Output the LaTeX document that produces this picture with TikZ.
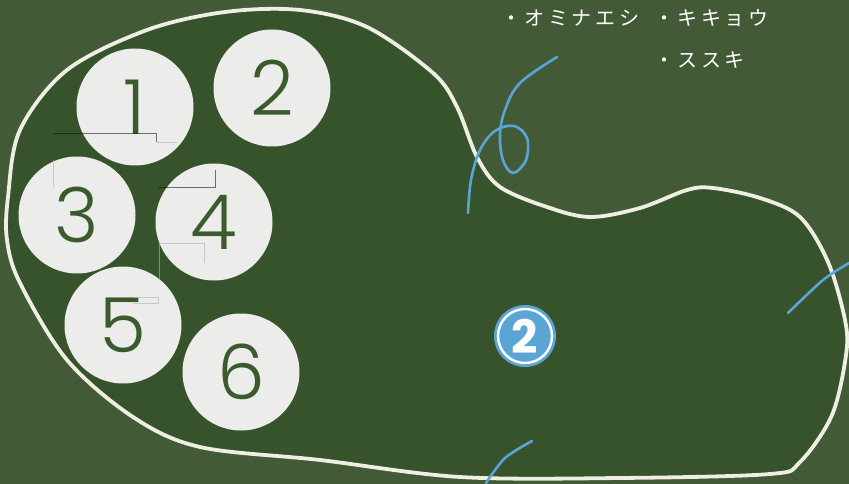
\documentclass[tikz,border=0pt]{standalone}
\usepackage{fontspec}
\newfontfamily\jpfont{Noto Sans CJK JP}
\newfontfamily\digitfont{Poppins Light}
\newfontfamily\bolddigitfont{Poppins}
\definecolor{board}{HTML}{435A36}
\definecolor{inner}{HTML}{36532B}
\definecolor{chalk}{HTML}{EEEEE2}
\definecolor{disc}{HTML}{ECECEA}
\definecolor{digit}{HTML}{3B5A2E}
\definecolor{chalkblue}{HTML}{5AA5D6}
\tikzset{
  disk/.style={circle, fill=disc, minimum size=117pt, inner sep=0pt},
  num/.style={font=\digitfont\fontsize{76}{76}\selectfont, text=digit, inner sep=0pt},
  bluechalk/.style={draw=chalkblue, line width=2.6pt, line cap=round, line join=round},
  jp/.style={font=\jpfont\fontsize{20}{20}\selectfont\addfontfeature{LetterSpace=18}, text=white, anchor=west, inner sep=0pt},
  artifact/.style={draw=black!70!digit, line width=0.8pt, opacity=0.6},
  artifactlight/.style={draw=gray!60, line width=0.6pt, opacity=0.6}
}
\begin{document}
\begin{tikzpicture}[x=1pt,y=-1pt]
\fill[board] (0,0) rectangle (849,484);
\useasboundingbox (0,0) rectangle (849,484);
% blob
\draw[fill=inner, draw=chalk, line width=3.8pt]
  plot[smooth cycle, tension=0.55] coordinates {
  (7,240) (8,197) (20,130) (67,70) (147,30) (225,12) (300,10) (367,27)
  (433,73) (457,107) (477,157) (500,187) (547,207) (590,217) (640,208)
  (687,190) (713,188) (760,198) (800,217) (828,262) (845,320) (846,355)
  (832,415) (800,462) (770,474) (620,478) (460,477) (320,460) (200,447) (133,417)
  (67,360) (20,283)};
% disks
\node[disk] (d1) at (135,107) {};
\node[disk] (d2) at (272,88) {};
\node[disk] (d3) at (77,215) {};
\node[disk] (d4) at (214,222) {};
\node[disk] (d5) at (123,325) {};
\node[disk] (d6) at (241,372) {};
\node[num] (n1) at (d1.center) {1};
\node[num] (n2) at (d2.center) {2};
\node[num] (n3) at (d3.center) {3};
\node[num] (n4) at (d4.center) {4};
\node[num] (n5) at (d5.center) {5};
\node[num] (n6) at (d6.center) {6};
% faint artifact lines
\draw[artifact] (53,133) -- (156,133) -- (156,142);
\draw[artifactlight] (157,142) -- (177,142);
\draw[artifactlight] (53,160) -- (53,187);
\draw[artifact] (158,187) -- (215,187) -- (215,170);
\draw[artifactlight] (159,280) -- (159,243) -- (204,243) -- (204,263);
\draw[artifactlight] (133,297) -- (158,297) -- (158,303) -- (133,303);
% blue chalk marks
\draw[bluechalk] plot[smooth, tension=0.6] coordinates {
  (557,57) (520,83) (505,110) (500,135) (503,160) (513,173) (526,160)
  (527,138) (514,126) (495,131) (480,150) (471,180) (468,213)};
\draw[bluechalk] plot[smooth] coordinates {(788,313) (823,280) (849,263)};
\draw[bluechalk] plot[smooth] coordinates {(532,441) (505,458) (486,483)};
% circled 2
\node[circle, fill=chalkblue, minimum size=62pt, inner sep=0pt] (b2) at (525,336) {};
\node[circle, draw=white, line width=2.4pt, minimum size=54pt, inner sep=0pt] (b2ring) at (b2.center) {};
\node[font=\bolddigitfont\bfseries\fontsize{46}{46}\selectfont, text=white, inner sep=0pt] (b2num) at (b2.center) {2};
% Japanese labels
\node[jp] (t1) at (501,18) {・オミナエシ};
\node[jp] (t2) at (654,18) {・キキョウ};
\node[jp] (t3) at (654,60) {・ススキ};
\end{tikzpicture}
\end{document}
